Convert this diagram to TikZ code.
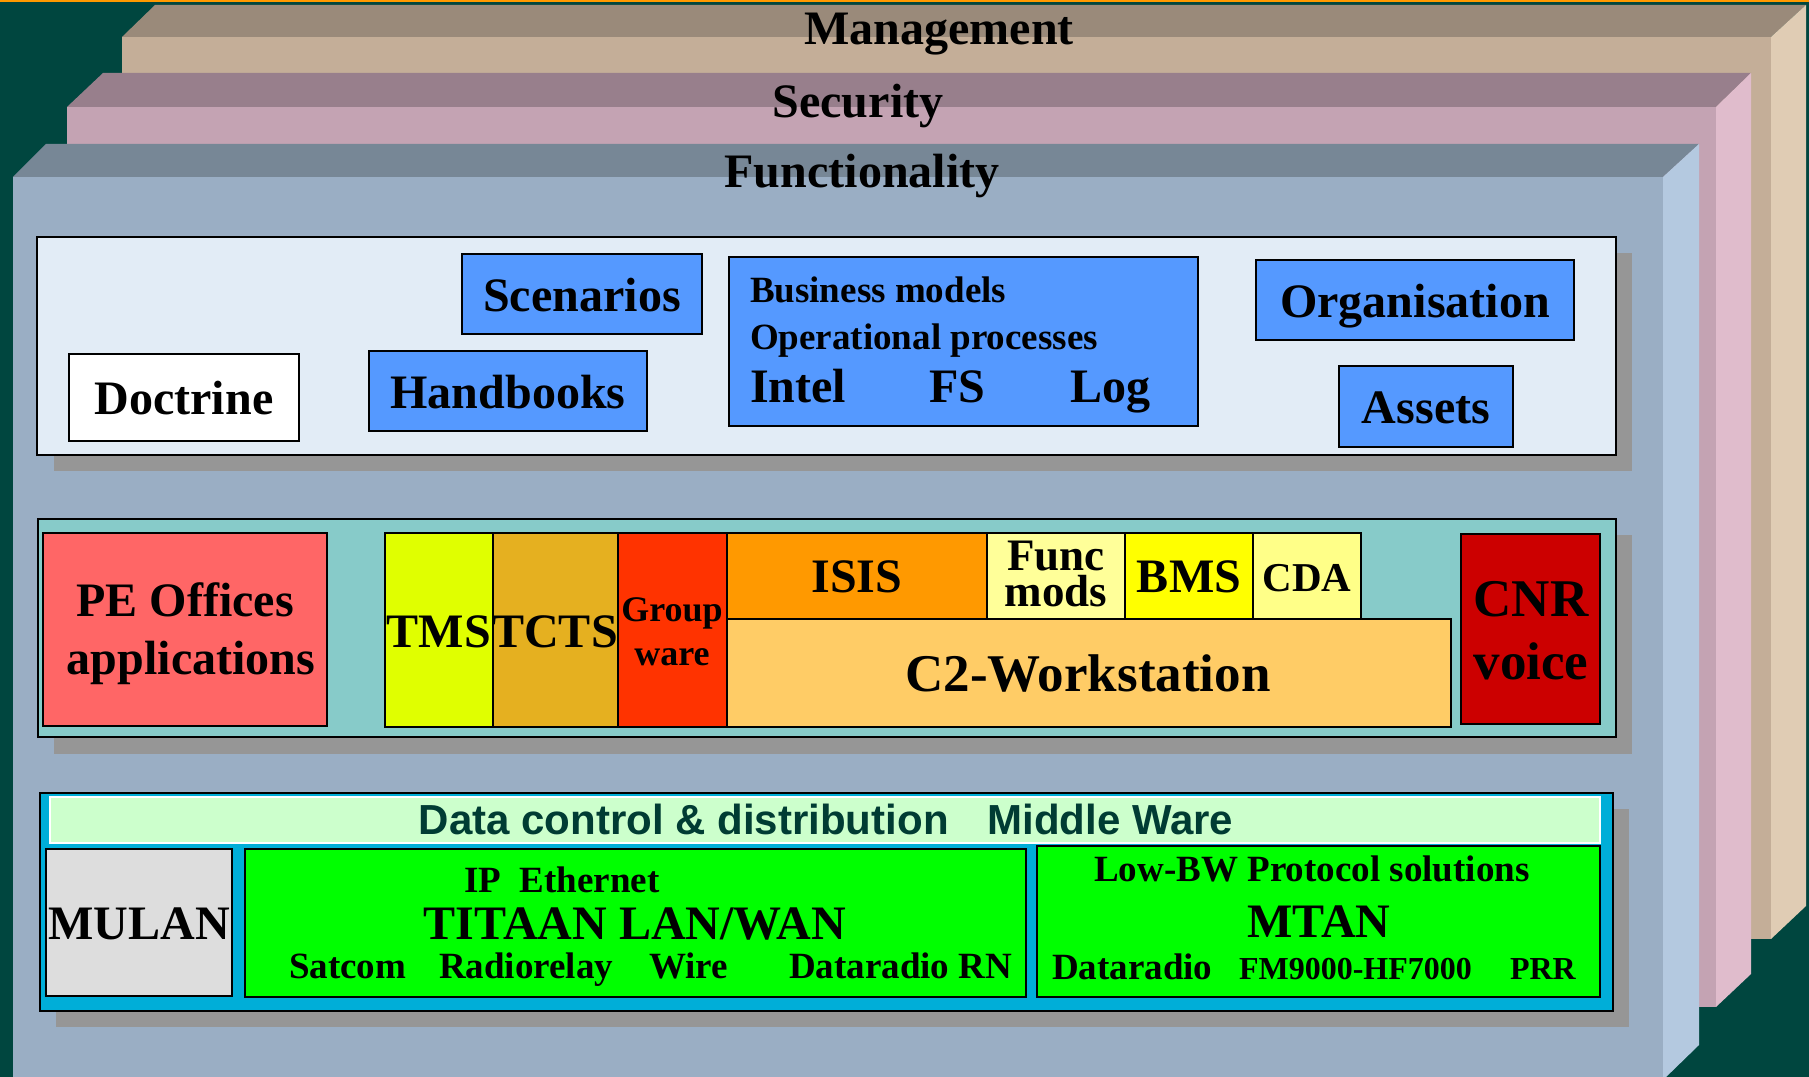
\documentclass[tikz,border=0pt]{standalone}
\usepackage{fontspec}
\setmainfont{Liberation Serif}
\setsansfont{Liberation Sans}
\usetikzlibrary{fit}
\definecolor{bg}{HTML}{00463F}
\definecolor{orangeline}{HTML}{FF9900}
\definecolor{mgTop}{HTML}{9A8A7A}
\definecolor{mgFront}{HTML}{C4AE98}
\definecolor{mgSide}{HTML}{E0CCB4}
\definecolor{scTop}{HTML}{987F8C}
\definecolor{scFront}{HTML}{C4A3B3}
\definecolor{scSide}{HTML}{E0BCCC}
\definecolor{fnTop}{HTML}{778796}
\definecolor{fnFront}{HTML}{9AAEC4}
\definecolor{fnSide}{HTML}{B4C9E0}
\definecolor{shadowgray}{HTML}{969696}
\definecolor{paleblue}{HTML}{E2ECF6}
\definecolor{teal}{HTML}{87CBC9}
\definecolor{cyanbox}{HTML}{00AED8}
\definecolor{boxblue}{HTML}{5599FF}
\definecolor{peRed}{HTML}{FF6666}
\definecolor{tmsYel}{HTML}{E0FF00}
\definecolor{tctsOr}{HTML}{E5B020}
\definecolor{grpRed}{HTML}{FF3300}
\definecolor{isisOr}{HTML}{FF9900}
\definecolor{funcY}{HTML}{FFFF99}
\definecolor{bmsY}{HTML}{FFFF00}
\definecolor{cdaY}{HTML}{FFFF88}
\definecolor{ctwo}{HTML}{FFCC66}
\definecolor{cnrRed}{HTML}{CC0000}
\definecolor{mwGreen}{HTML}{CCFFCC}
\definecolor{mwText}{HTML}{003C33}
\definecolor{mulanGray}{HTML}{DDDDDD}
\definecolor{netGreen}{HTML}{00FF00}
\newcommand\fA{\fontsize{13.66pt}{16pt}\selectfont\bfseries}
\newcommand\fB{\fontsize{15.08pt}{17.9pt}\selectfont\bfseries}
\newcommand\fC{\fontsize{10.53pt}{12.5pt}\selectfont\bfseries}
\newcommand\fD{\fontsize{9.1pt}{11pt}\selectfont\bfseries}
\newcommand\fE{\fontsize{11.66pt}{14pt}\selectfont\bfseries}
\newcommand\fG{\fontsize{10.24pt}{12.5pt}\selectfont\bfseries}
\newcommand\fH{\fontsize{12.8pt}{14pt}\selectfont\bfseries}
\begin{document}
\begin{tikzpicture}[x=0.01cm,y=-0.01cm,
  rbox/.style={draw=black, line width=0.55pt, inner sep=0pt, outer sep=0pt},
  cbox/.style={draw=black, line width=0.6pt, inner sep=0pt, outer sep=0pt},
  shad/.style={fill=shadowgray, inner sep=0pt, outer sep=0pt},
  txt/.style={anchor=base, inner sep=0pt, outer sep=0pt, text=black, font=\fA},
  txtl/.style={txt, anchor=base west}]
\useasboundingbox (0,0) rectangle (1809,1077);
\fill[bg] (0,0) rectangle (1809,1077);
\fill[orangeline] (0,0) rectangle (1809,2);
% Management layer
\fill[mgFront] (122,37) rectangle (1771,939);
\fill[mgTop] (155,5) -- (1806,5) -- (1771,37) -- (122,37) -- cycle;
\fill[mgSide] (1771,37) -- (1806,5) -- (1806,906) -- (1771,939) -- cycle;
% Security layer
\fill[scFront] (67,107) rectangle (1716,1007);
\fill[scTop] (103,73) -- (1751,73) -- (1716,107) -- (67,107) -- cycle;
\fill[scSide] (1716,107) -- (1751,73) -- (1751,974) -- (1716,1007) -- cycle;
% Functionality layer
\fill[fnFront] (13,177) rectangle (1663,1080);
\fill[fnTop] (46,144) -- (1699,144) -- (1663,177) -- (13,177) -- cycle;
\fill[fnSide] (1663,177) -- (1699,144) -- (1699,1045) -- (1663,1080) -- cycle;
% titles
\node[txt] (tMan) at (939,45) {Management};
\node[txt] (tSec) at (858,118) {Security};
\node[txt] (tFun) at (862,188) {Functionality};
% ---- Layer 1
\node[shad, fit={(54,253) (1632,471)}] (sh1) {};
\node[cbox, fill=paleblue, fit={(37,237) (1616,455)}] (L1) {};
\node[rbox, fill=white, fit={(69,354) (299,441)}] (bDoc) {};
\node[rbox, fill=boxblue, fit={(462,254) (702,334)}] (bScen) {};
\node[rbox, fill=boxblue, fit={(369,351) (647,431)}] (bHand) {};
\node[rbox, fill=boxblue, fit={(729,257) (1198,426)}] (bBus) {};
\node[rbox, fill=boxblue, fit={(1256,260) (1574,340)}] (bOrg) {};
\node[rbox, fill=boxblue, fit={(1339,366) (1513,447)}] (bAss) {};
\node[txt] (xDoc) at (184,415) {Doctrine};
\node[txt] (xScen) at (582,312) {Scenarios};
\node[txt] (xHand) at (508,409) {Handbooks};
\node[txt] (xOrg) at (1415,318) {Organisation};
\node[txt] (xAss) at (1426,424) {Assets};
\node[txtl, font=\fC] (xBus) at (750,303) {Business models};
\node[txtl, font=\fC] (xOp) at (750,350) {Operational processes};
\node[txtl] (xIntel) at (750,403) {Intel};
\node[txtl] (xFS) at (929,403) {FS};
\node[txtl] (xLog) at (1070,403) {Log};
% ---- Layer 2
\node[shad, fit={(54,535) (1632,754)}] (sh2) {};
\node[cbox, fill=teal, fit={(38,519) (1616,737)}] (L2) {};
\node[rbox, fill=peRed, fit={(43,533) (327,726)}] (bPE) {};
\node[rbox, fill=tmsYel, fit={(385,533) (493,727)}] (bTMS) {};
\node[rbox, fill=tctsOr, fit={(493,533) (618,727)}] (bTCTS) {};
\node[rbox, fill=grpRed, fit={(618,533) (727,727)}] (bGrp) {};
\node[rbox, fill=isisOr, fit={(727,533) (987,619)}] (bISIS) {};
\node[rbox, fill=funcY, fit={(987,533) (1125,619)}] (bFunc) {};
\node[rbox, fill=bmsY, fit={(1125,533) (1253,619)}] (bBMS) {};
\node[rbox, fill=cdaY, fit={(1253,533) (1361,619)}] (bCDA) {};
\node[rbox, fill=ctwo, fit={(727,619) (1451,727)}] (bC2) {};
\node[rbox, fill=cnrRed, fit={(1461,534) (1600,724)}] (bCNR) {};
\node[txt] (xPE) at (185,617) {PE Offices};
\node[txt] (xApp) at (191,675) {applications};
\node[txt] (xTMS) at (439,648) {TMS};
\node[txt] (xTCTS) at (555,648) {TCTS};
\node[txt, font=\fG] (xGrp) at (672,622) {Group};
\node[txt, font=\fG] (xWare) at (672,666) {ware};
\node[txt] (xISIS) at (857,593) {ISIS};
\node[txt, font=\fH] (xFunc) at (1056,571) {Func};
\node[txt, font=\fH] (xMods) at (1056,607) {mods};
\node[txt] (xBMS) at (1189,593) {BMS};
\node[txt, font=\fE] (xCDA) at (1307,592) {CDA};
\node[txt, font=\fB] (xC2) at (1088,692) {C2-Workstation};
\node[txt, font=\fB] (xCNR) at (1531,617) {CNR};
\node[txt, font=\fB] (xVoice) at (1531,680) {voice};
% ---- Layer 3
\node[shad, fit={(56,809) (1629,1027)}] (sh3) {};
\node[cbox, fill=cyanbox, fit={(40,793) (1613,1011)}] (L3) {};
\node[draw=white, line width=0.6pt, fill=mwGreen, inner sep=0pt, outer sep=0pt, fit={(50,797) (1600,843)}] (bMW) {};
\node[rbox, fill=mulanGray, fit={(46,849) (232,996)}] (bMUL) {};
\node[rbox, fill=netGreen, fit={(245,849) (1026,997)}] (bTIT) {};
\node[rbox, fill=netGreen, fit={(1037,846) (1600,997)}] (bMTAN) {};
\node[txt, text=mwText, font=\fontsize{11.95pt}{14pt}\selectfont\sffamily\bfseries] (xMW) at (826,835) {Data control \& distribution\hspace{11pt}Middle Ware};
\node[txt] (xMUL) at (139,940) {MULAN};
\node[txtl, font=\fC] (xIP) at (464,893) {IP\ \ Ethernet};
\node[txt] (xTIT) at (635,940) {TITAAN LAN/WAN};
\node[txtl, font=\fC] (xSat) at (289,979) {Satcom};
\node[txtl, font=\fC] (xRad) at (439,979) {Radiorelay};
\node[txtl, font=\fC] (xWire) at (649,979) {Wire};
\node[txtl, font=\fC] (xDRN) at (789,979) {Dataradio RN};
\node[txt, font=\fC] (xLow) at (1312,882) {Low-BW Protocol solutions};
\node[txt] (xMTAN) at (1319,938) {MTAN};
\node[txtl, font=\fC] (xDat) at (1052,980) {Dataradio};
\node[txtl, font=\fD] (xFM) at (1239,980) {FM9000-HF7000};
\node[txtl, font=\fD] (xPRR) at (1510,980) {PRR};
\end{tikzpicture}
\end{document}
